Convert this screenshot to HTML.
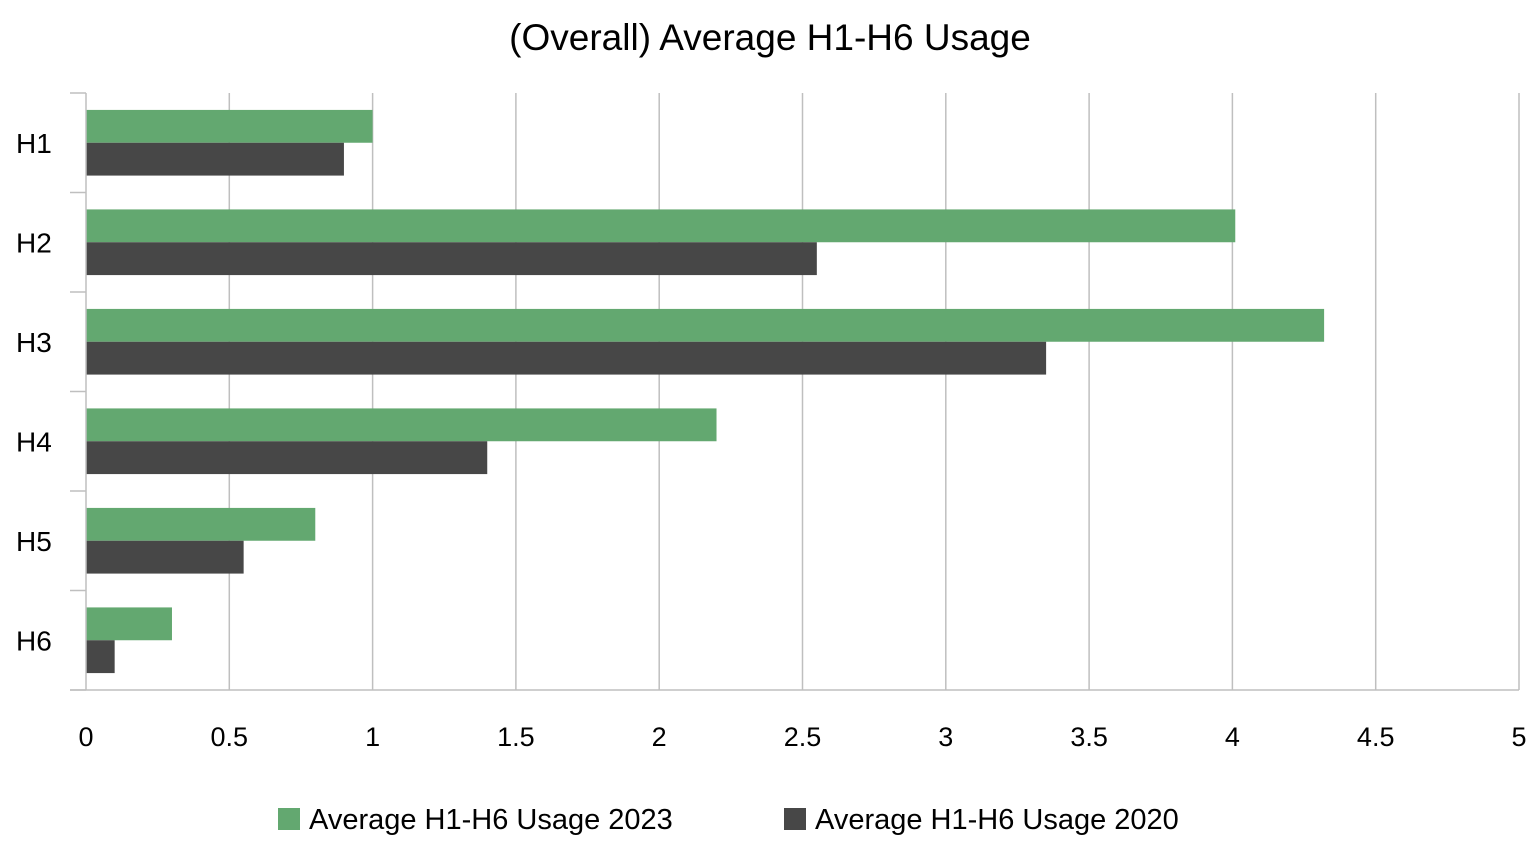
<!DOCTYPE html>
<html><head><meta charset="utf-8"><style>
html,body{margin:0;padding:0;background:#fff;}
svg{display:block;font-family:"Liberation Sans",Arial,sans-serif;}
</style></head><body>
<svg id="chart" width="1534" height="850" viewBox="0 0 1534 850">
<text x="770" y="50" text-anchor="middle" font-size="37" fill="#000">(Overall) Average H1-H6 Usage</text>
<g id="grid"></g><g id="bars"></g><g id="axes"></g>
<g>
<rect x="278" y="808" width="22" height="22" fill="#63A870"/>
<text x="309" y="829" font-size="29" fill="#000">Average H1-H6 Usage 2023</text>
<rect x="784" y="808" width="22" height="22" fill="#474747"/>
<text x="815" y="829" font-size="29" fill="#000">Average H1-H6 Usage 2020</text>
</g>
</svg>
<script>
const categories=["H1","H2","H3","H4","H5","H6"];
const values2023=[1.0,4.01,4.32,2.2,0.8,0.3];
const values2020=[0.9,2.55,3.35,1.4,0.55,0.1];
const xTicks=[0,0.5,1,1.5,2,2.5,3,3.5,4,4.5,5];
const x0=86,x1=1519,y0=93,y1=690,xMax=5;
const NS="http://www.w3.org/2000/svg";
function xs(v){return x0+(v/xMax)*(x1-x0);}
const band=(y1-y0)/categories.length;
function ys(i){return y0+i*band;}
function mk(tag,attrs,parent){const e=document.createElementNS(NS,tag);for(const k in attrs)e.setAttribute(k,attrs[k]);parent.appendChild(e);return e;}
const grid=document.getElementById('grid'),bars=document.getElementById('bars'),axes=document.getElementById('axes');
xTicks.forEach((t,i)=>{
  if(t>0){const l=mk('line',{x1:xs(t),x2:xs(t),y1:y0,y2:y1,stroke:'#BFBFBF','stroke-width':1.5},grid);
  
  }
  const tx=mk('text',{x:xs(t),y:746,'text-anchor':'middle','font-size':27,fill:'#000'},axes);
  tx.textContent=String(t);
  
  
});
const la=mk('line',{x1:x0,x2:x0,y1:y0,y2:y1,stroke:'#BFBFBF','stroke-width':1.5},axes);


const lb=mk('line',{x1:70,x2:x1,y1:y1,y2:y1,stroke:'#BFBFBF','stroke-width':1.5},axes);


for(let i=0;i<=categories.length;i++){
  const tk=mk('line',{x1:70,x2:x0,y1:ys(i),y2:ys(i),stroke:'#BFBFBF','stroke-width':1.5},axes);
  
  
}
const bh=band*0.33;
categories.forEach((c,i)=>{
  const top=ys(i)+band*0.17;
  const g=mk('rect',{x:x0,y:top,width:xs(values2023[i])-x0,height:bh,fill:'#63A870'},bars);
  
  
  const d=mk('rect',{x:x0,y:top+bh,width:xs(values2020[i])-x0,height:bh,fill:'#474747'},bars);
  
  
  const t=mk('text',{x:16,y:ys(i)+band/2+10,'font-size':28,fill:'#000'},axes);
  t.textContent=c;
  
  
});
</script>
</body></html>
